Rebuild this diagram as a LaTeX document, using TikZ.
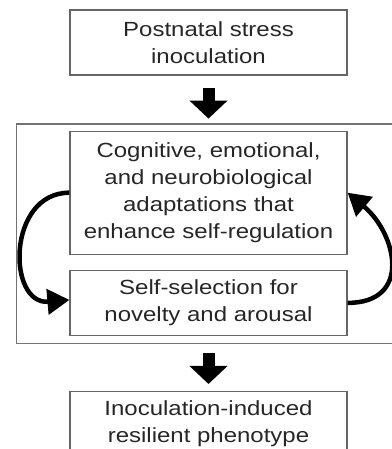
\documentclass[tikz,border=0pt]{standalone}
\usepackage{fontspec}
\setmainfont{Liberation Sans}[FakeStretch=1.17]
\usetikzlibrary{positioning,arrows.meta}
\begin{document}
\begin{tikzpicture} [x=1pt,y=1pt,
stage/.style={draw=black!60,line width=1.2pt,minimum width=277pt,minimum height=65pt,align=center,text=black!85,font=\fontsize{20.5}{27}\selectfont},
fat/.style={line width=12pt,-{Triangle[width=37pt,length=18pt]}},
recur/.style={line width=4.5pt,-{Triangle[width=25pt,length=22pt]}}]
\useasboundingbox (0,0) rectangle (391,449);
\node[stage] (inoc) at (208.5,406.5) {Postnatal stress\\inoculation};
\node[stage,minimum height=123pt,below=55pt of inoc] (adapt) {Cognitive, emotional,\\and neurobiological\\adaptations that\\enhance self-regulation};
\node[stage,below=15pt of adapt] (seek) {Self-selection for\\novelty and arousal};
\node[stage,below=55pt of seek] (pheno) {Inoculation-induced\\resilient phenotype};
% frame round the feedback loop, its right side runs off the page
\draw[black!55,line width=1.2pt] ([xshift=-53pt,yshift=6.5pt]adapt.north west) rectangle ([xshift=70pt,yshift=-7.5pt]seek.south east);
\draw[fat] ([yshift=-12pt]inoc.south) -- ([yshift=12pt]adapt.north);
\draw[fat] ([yshift=-17pt]seek.south) -- ([yshift=7pt]pheno.north);
\draw[recur] (adapt.west) to[out=180,in=185,looseness=1.5] ([yshift=3pt]seek.west);
\draw[recur] (seek.east) to[out=0,in=-40,looseness=1.5] (adapt.east);
\end{tikzpicture}
\end{document}
